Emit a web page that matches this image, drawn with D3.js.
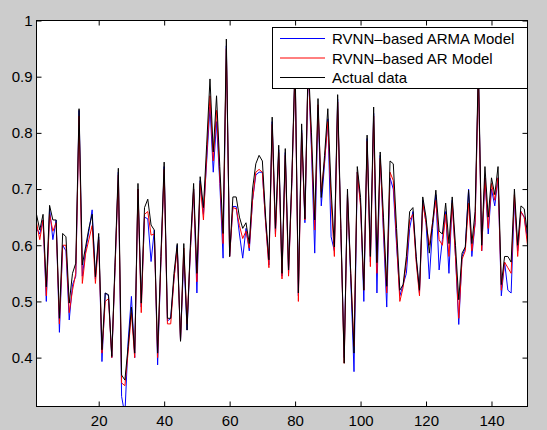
<!DOCTYPE html>
<html>
<head>
<meta charset="utf-8">
<script src="https://cdn.jsdelivr.net/npm/d3@7/dist/d3.min.js"></script>
<style>
  body { margin: 0; background: #cccccc; }
  svg { display: block; font-family: "Liberation Sans", Arial, Helvetica, sans-serif; }
</style>
</head>
<body>
<svg width="547" height="430"></svg>
<script>
// values, x = 1..151
var actual = [0.655,0.627,0.655,0.526,0.671,0.645,0.645,0.47,0.621,0.615,
  0.497,0.55,0.568,0.843,0.565,0.597,0.63,0.655,0.544,0.621,
  0.414,0.515,0.512,0.402,0.57,0.737,0.369,0.36,0.42,0.49,
  0.408,0.71,0.497,0.667,0.682,0.636,0.627,0.408,0.58,0.748,
  0.47,0.47,0.55,0.603,0.429,0.603,0.449,0.60,0.71,0.55,
  0.722,0.667,0.78,0.896,0.766,0.866,0.74,0.621,0.967,0.58,
  0.686,0.686,0.65,0.63,0.64,0.603,0.70,0.745,0.76,0.75,
  0.65,0.574,0.828,0.63,0.778,0.55,0.772,0.556,0.72,0.93,
  0.515,0.816,0.647,0.93,0.80,0.645,0.861,0.685,0.76,0.843,
  0.70,0.597,0.868,0.63,0.39,0.70,0.55,0.408,0.74,0.685,
  0.52,0.796,0.58,0.846,0.569,0.766,0.65,0.527,0.75,0.745,
  0.63,0.52,0.53,0.58,0.66,0.667,0.58,0.52,0.686,0.65,
  0.586,0.64,0.698,0.625,0.62,0.675,0.603,0.686,0.60,0.503,
  0.586,0.597,0.698,0.603,0.66,0.92,0.60,0.74,0.65,0.72,
  0.69,0.74,0.53,0.58,0.58,0.57,0.70,0.60,0.67,0.665,0.62];

var arModel = [0.64,0.61,0.645,0.51,0.655,0.625,0.64,0.46,0.60,0.60,
  0.48,0.52,0.55,0.83,0.532,0.585,0.61,0.635,0.532,0.61,
  0.408,0.50,0.505,0.40,0.56,0.725,0.355,0.35,0.41,0.48,
  0.40,0.70,0.48,0.655,0.66,0.618,0.62,0.40,0.57,0.735,
  0.46,0.46,0.54,0.595,0.43,0.595,0.46,0.59,0.70,0.535,
  0.71,0.645,0.76,0.866,0.75,0.84,0.72,0.603,0.95,0.58,
  0.667,0.665,0.635,0.612,0.625,0.595,0.68,0.73,0.735,0.73,
  0.64,0.56,0.815,0.615,0.765,0.54,0.76,0.545,0.71,0.92,
  0.50,0.80,0.645,0.92,0.78,0.627,0.85,0.695,0.75,0.82,
  0.68,0.58,0.855,0.62,0.39,0.69,0.55,0.42,0.73,0.67,
  0.52,0.785,0.562,0.83,0.55,0.755,0.63,0.515,0.73,0.715,
  0.61,0.50,0.525,0.57,0.645,0.655,0.57,0.51,0.675,0.64,
  0.60,0.64,0.68,0.61,0.60,0.655,0.58,0.675,0.58,0.47,
  0.575,0.59,0.675,0.59,0.64,0.905,0.59,0.72,0.63,0.71,
  0.68,0.72,0.52,0.57,0.56,0.55,0.69,0.58,0.66,0.65,0.60];

var armaModel = [0.63,0.62,0.645,0.50,0.665,0.61,0.645,0.445,0.60,0.59,
  0.467,0.53,0.545,0.84,0.545,0.59,0.625,0.663,0.54,0.615,
  0.393,0.515,0.51,0.40,0.56,0.73,0.331,0.298,0.43,0.509,
  0.40,0.70,0.49,0.65,0.647,0.571,0.627,0.387,0.57,0.74,
  0.465,0.47,0.54,0.60,0.43,0.58,0.449,0.59,0.70,0.515,
  0.715,0.655,0.75,0.846,0.73,0.82,0.71,0.577,0.955,0.58,
  0.669,0.669,0.62,0.577,0.63,0.59,0.68,0.725,0.73,0.73,
  0.64,0.565,0.82,0.62,0.77,0.545,0.765,0.55,0.71,0.92,
  0.51,0.805,0.64,0.92,0.77,0.586,0.845,0.67,0.745,0.825,
  0.615,0.59,0.86,0.62,0.40,0.69,0.54,0.375,0.73,0.675,
  0.50,0.79,0.57,0.835,0.515,0.76,0.62,0.49,0.72,0.70,
  0.60,0.51,0.53,0.55,0.63,0.66,0.575,0.515,0.68,0.64,
  0.54,0.63,0.69,0.556,0.61,0.66,0.55,0.68,0.58,0.459,
  0.58,0.595,0.70,0.58,0.64,0.91,0.59,0.72,0.62,0.70,
  0.67,0.72,0.51,0.57,0.52,0.515,0.68,0.59,0.66,0.65,0.61];

var xTicks = [20, 40, 60, 80, 100, 120, 140];
var yTicks = [0.4, 0.5, 0.6, 0.7, 0.8, 0.9, 1];
var seriesNames = ["RVNN\u2013based ARMA Model", "RVNN\u2013based AR Model", "Actual data"];
var seriesColors = ["#0000ff", "#ff0000", "#000000"];

var svg = d3.select("svg");
var plotL = 36.5, plotR = 527.5, plotT = 20.5, plotB = 406.5;

var x = d3.scaleLinear().domain([1, 151]).range([plotL, plotR]);
var y = d3.scaleLinear().domain([0.313, 1]).range([plotB, plotT]);

svg.append("defs").append("clipPath").attr("id", "plot")
  .append("rect").attr("x", plotL).attr("y", plotT)
  .attr("width", plotR - plotL).attr("height", plotB - plotT);

svg.append("rect")
  .attr("x", plotL).attr("y", plotT)
  .attr("width", plotR - plotL).attr("height", plotB - plotT)
  .attr("fill", "#ffffff");

var line = d3.line()
  .x(function(d, i) { return x(i + 1); })
  .y(function(d) { return y(d); });

var lines = svg.append("g").attr("clip-path", "url(#plot)");
[armaModel, arModel, actual].forEach(function(s, k) {
  lines.append("path")
    .attr("d", line(s))
    .attr("fill", "none")
    .attr("stroke", seriesColors[k])
    .attr("stroke-width", 1);
});

// axes, ticks pointing inward like matlab
svg.append("g").attr("transform", "translate(0," + plotB + ")")
  .call(d3.axisBottom(x).tickValues(xTicks).tickSize(-5).tickPadding(9));
svg.append("g").attr("transform", "translate(0," + plotT + ")")
  .call(d3.axisTop(x).tickValues(xTicks).tickSize(-5).tickFormat(""));
svg.append("g").attr("transform", "translate(" + plotL + ",0)")
  .call(d3.axisLeft(y).tickValues(yTicks).tickSize(-5).tickPadding(4).tickFormat(d3.format("")));
svg.append("g").attr("transform", "translate(" + plotR + ",0)")
  .call(d3.axisRight(y).tickValues(yTicks).tickSize(-5).tickFormat(""));

svg.selectAll(".domain").remove();
svg.selectAll(".tick line").attr("stroke", "#000");
svg.selectAll(".tick text")
  .attr("fill", "#000")
  .style("font-size", "15px")
  .style("font-family", "'Liberation Sans', Arial, Helvetica, sans-serif");

svg.append("rect")
  .attr("x", plotL).attr("y", plotT)
  .attr("width", plotR - plotL).attr("height", plotB - plotT)
  .attr("fill", "none").attr("stroke", "#000").attr("stroke-width", 1);

// legend
var lg = svg.append("g");
lg.append("rect")
  .attr("x", 272.5).attr("y", 27.5).attr("width", 255).attr("height", 61)
  .attr("fill", "#fff").attr("stroke", "#000").attr("stroke-width", 1);
seriesNames.forEach(function(name, i) {
  var ly = 38.5 + i * 19.5;
  lg.append("line")
    .attr("x1", 280).attr("x2", 325).attr("y1", ly).attr("y2", ly)
    .attr("stroke", seriesColors[i]).attr("stroke-width", 1);
  lg.append("text")
    .attr("x", 332).attr("y", ly + 5.5)
    .style("font-size", "15px")
    .text(name);
});
</script>
</body>
</html>
